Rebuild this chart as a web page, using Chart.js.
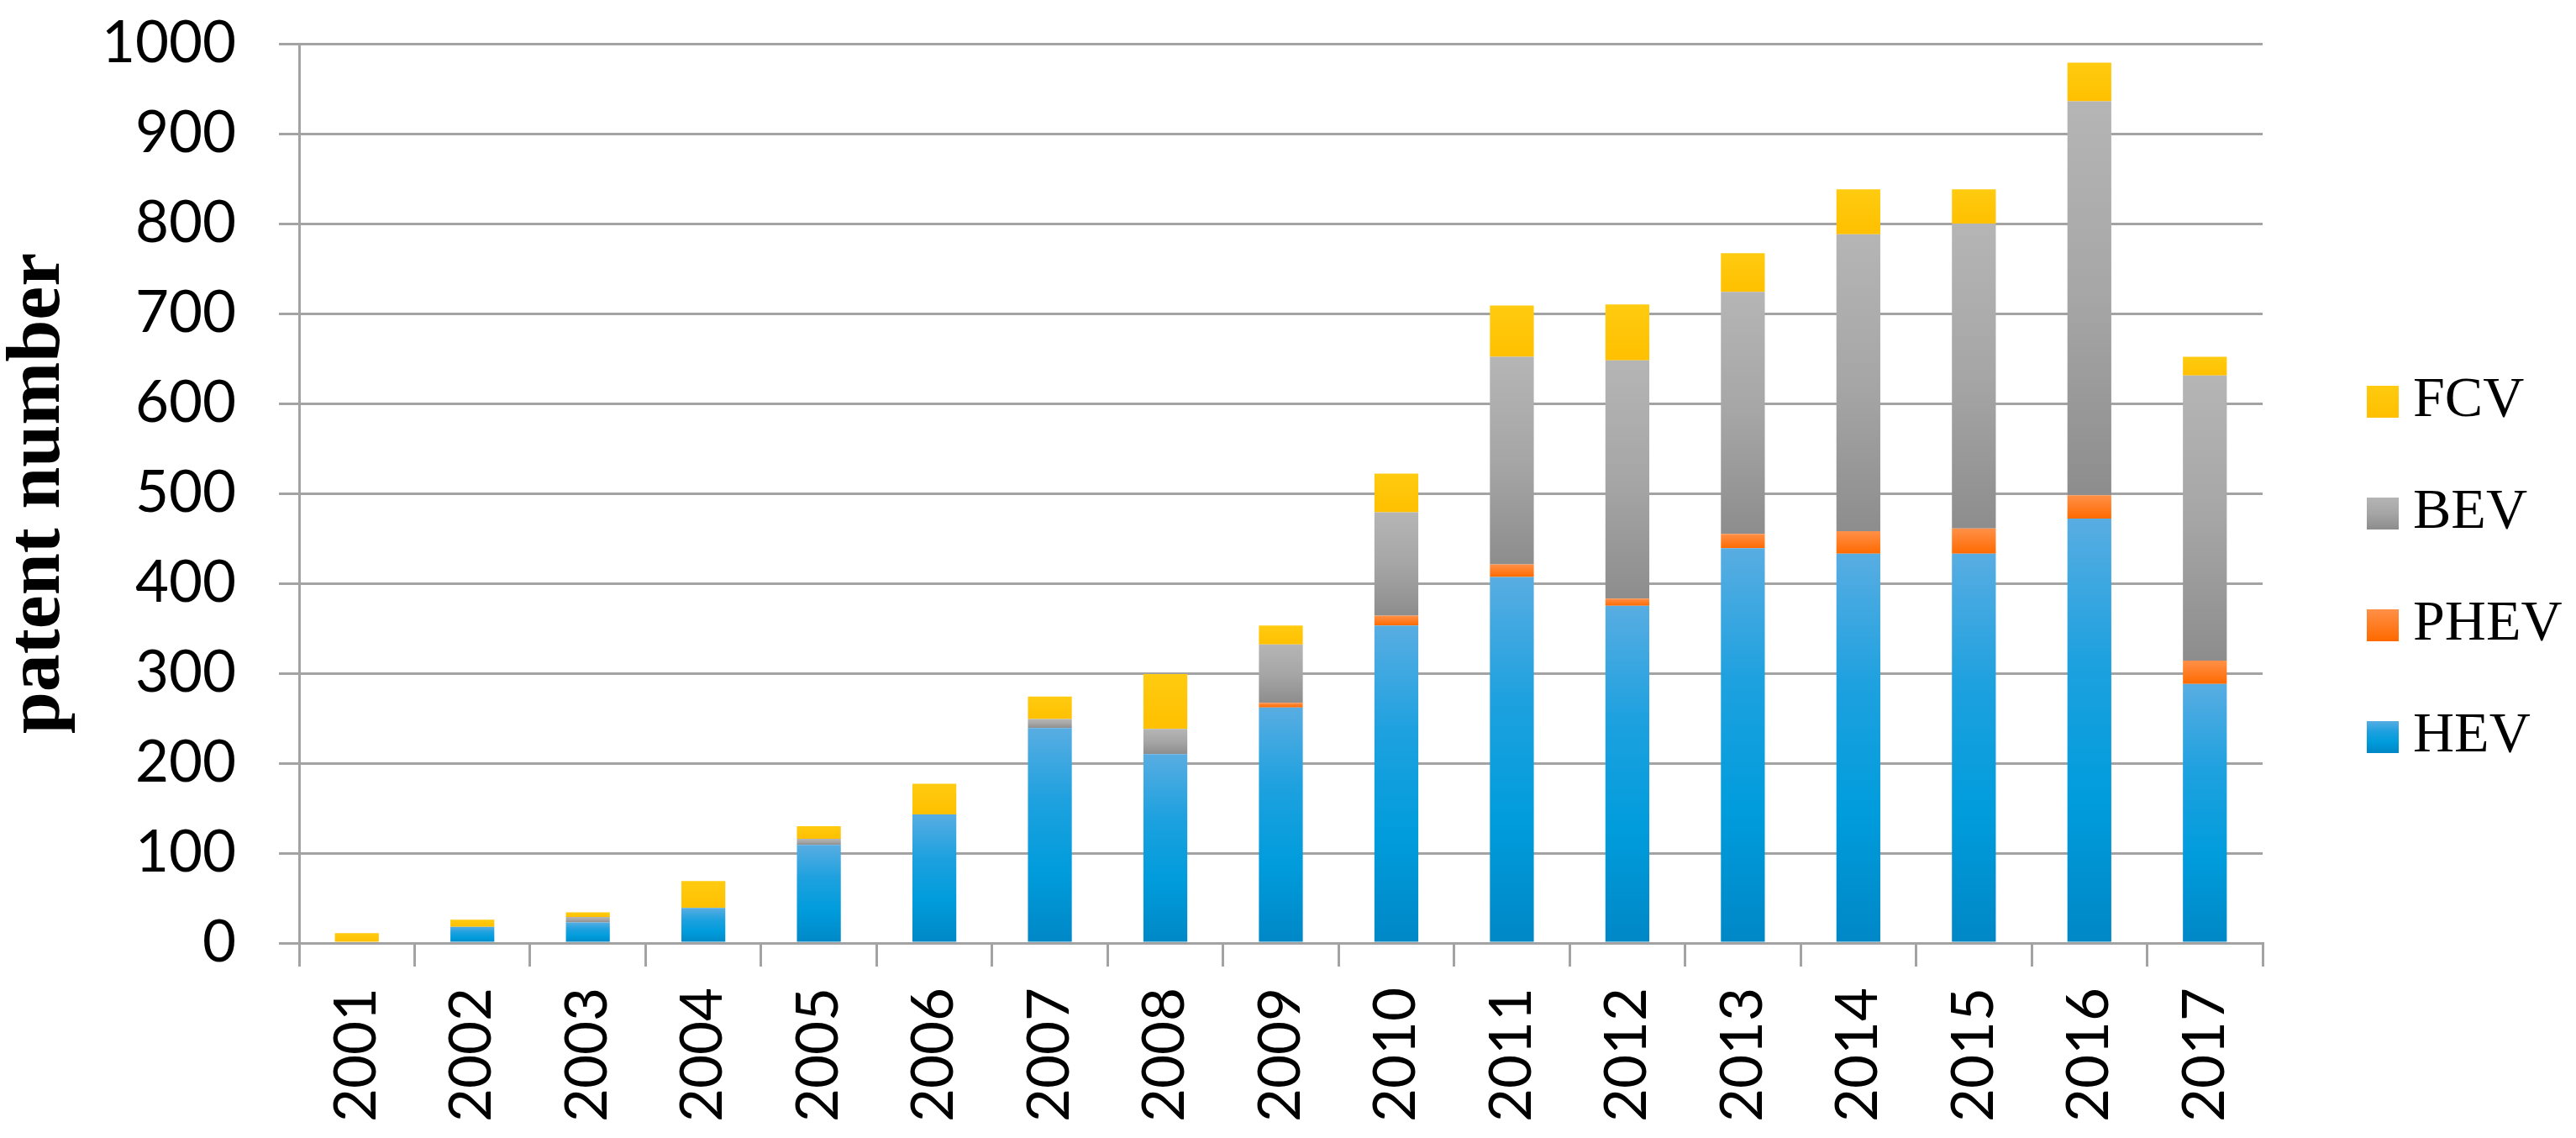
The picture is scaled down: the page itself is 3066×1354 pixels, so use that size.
<!DOCTYPE html>
<html>
<head>
<meta charset="utf-8">
<script src="https://cdn.jsdelivr.net/npm/chart.js@4.4.1/dist/chart.umd.min.js"></script>
<style>
  html, body { margin: 0; padding: 0; background: #fff; }
  #chart { display: block; }
</style>
</head>
<body>
<canvas id="chart" width="3066" height="1354"></canvas>
<script>
var years = ['2001', '2002', '2003', '2004', '2005', '2006', '2007', '2008', '2009',
             '2010', '2011', '2012', '2013', '2014', '2015', '2016', '2017'];
var hev  = [0, 18, 23, 39, 109, 143, 239, 210, 262, 353, 407, 375, 439, 433, 433, 472, 288];
var phev = [0, 0, 0, 0, 0, 0, 0, 0, 5, 11, 14, 8, 16, 25, 28, 26, 26];
var bev  = [0, 0, 6, 0, 7, 0, 10, 28, 65, 115, 231, 265, 269, 330, 339, 438, 317];
var fcv  = [11, 8, 5, 30, 14, 34, 25, 61, 21, 43, 57, 62, 43, 50, 38, 43, 21];
var yTicks = [0, 100, 200, 300, 400, 500, 600, 700, 800, 900, 1000];

var gridColor = '#a3a3a3';

// colour stops, top of a segment first (excel "linear down" shading)
var shades = [
    ['#58ade2', '#1ea1df', '#009cdc', '#0087c6'],
    ['#ff9048', '#ff6a00'],
    ['#b5b5b5', '#a6a6a6', '#8d8d8d'],
    ['#ffcb10', '#ffc000']
];
var flatColors = ['#0a9ad9', '#ff7420', '#a2a2a2', '#ffc400'];

function addStops(g, stops) {
    stops.forEach(function(c, j) { g.addColorStop(j / (stops.length - 1), c); });
    return g;
}

function segmentFill(d) {
    return function(ctx) {
        var chart = ctx.chart;
        var y = chart.scales ? chart.scales.y : null;
        if (ctx.type !== 'data' || !y || !chart.chartArea) return flatColors[d];
        var i = ctx.dataIndex, base = 0;
        for (var k = 0; k < d; k++) base += chart.data.datasets[k].data[i];
        var top = base + chart.data.datasets[d].data[i];
        var y0 = y.getPixelForValue(top), y1 = y.getPixelForValue(base);
        if (!(y1 - y0 > 0.5)) return flatColors[d];
        return addStops(chart.ctx.createLinearGradient(0, y0, 0, y1), shades[d]);
    };
}

// small shaded squares for the legend
var legendBox = 38;
var swatches = shades.map(function(stops) {
    var c = document.createElement('canvas');
    c.width = legendBox; c.height = legendBox;
    var g = c.getContext('2d');
    g.fillStyle = addStops(g.createLinearGradient(0, 0, 0, legendBox), stops);
    g.fillRect(0, 0, legendBox, legendBox);
    return c;
});

var legendFont = { family: 'Liberation Serif', size: 68 };
var legendPad = 65;

var ctx = document.getElementById('chart').getContext('2d');
var chart = new Chart(ctx, {
    type: 'bar',
    data: {
        labels: years,
        datasets: [
            { label: 'HEV',  data: hev,  backgroundColor: segmentFill(0) },
            { label: 'PHEV', data: phev, backgroundColor: segmentFill(1) },
            { label: 'BEV',  data: bev,  backgroundColor: segmentFill(2) },
            { label: 'FCV',  data: fcv,  backgroundColor: segmentFill(3) }
        ]
    },
    options: {
        responsive: false,
        devicePixelRatio: 1,
        animation: false,
        events: [],
        layout: { padding: { left: 0, right: 50, top: 0, bottom: 0 } },
        datasets: {
            bar: { barPercentage: 0.38, categoryPercentage: 1.0, borderWidth: 0 }
        },
        plugins: {
            tooltip: { enabled: false },
            legend: {
                position: 'right',
                align: 'center',
                reverse: true,
                labels: {
                    usePointStyle: true,
                    pointStyleWidth: 4,
                    padding: legendPad,
                    color: '#000',
                    font: legendFont,
                    generateLabels: function(c) {
                        return c.data.datasets.map(function(ds, i) {
                            return {
                                text: ds.label,
                                fillStyle: flatColors[i],
                                strokeStyle: flatColors[i],
                                lineWidth: 0,
                                pointStyle: swatches[i],
                                hidden: false,
                                datasetIndex: i,
                                fontColor: '#000'
                            };
                        });
                    }
                }
            }
        },
        scales: {
            x: {
                stacked: true,
                grid: {
                    offset: true,
                    drawOnChartArea: false,
                    drawTicks: true,
                    tickLength: 28,
                    color: gridColor,
                    lineWidth: 3
                },
                border: { display: true, color: gridColor, width: 3 },
                ticks: {
                    autoSkip: false,
                    minRotation: 90,
                    maxRotation: 90,
                    padding: 25,
                    color: '#000',
                    font: { family: 'Lato', size: 69 }
                },
                afterFit: function(s) { s.height = 232; }
            },
            y: {
                stacked: true,
                min: 0,
                max: 1000,
                afterBuildTicks: function(s) {
                    s.ticks = yTicks.map(function(v) { return { value: v }; });
                },
                grid: {
                    color: gridColor,
                    lineWidth: 3,
                    drawTicks: true,
                    tickLength: 24
                },
                border: { display: true, color: gridColor, width: 3 },
                ticks: {
                    padding: 51,
                    color: '#000',
                    font: { family: 'Lato', size: 69, lineHeight: 0.03 },
                    callback: function(v) { return String(v); }
                },
                title: {
                    display: true,
                    text: 'patent number',
                    color: '#000',
                    font: { family: 'Liberation Serif', size: 90, weight: 'bold', lineHeight: 1 },
                    padding: { top: 2, bottom: 0 }
                },
                afterFit: function(s) { s.width = 356; }
            },
            gap: {
                position: 'right',
                display: true,
                grid: { display: false },
                border: { display: false },
                ticks: { display: false },
                afterFit: function(s) { s.width = 76; }
            }
        }
    }
});

// legend should start at x = 2769; fix the right padding from its measured width
var wantLeft = 2769;
var padRight = chart.canvas.width - wantLeft - chart.legend.width;
if (Math.abs(padRight - chart.options.layout.padding.right) > 0.5) {
    chart.options.layout.padding.right = padRight;
    chart.update();
}
</script>
</body>
</html>
